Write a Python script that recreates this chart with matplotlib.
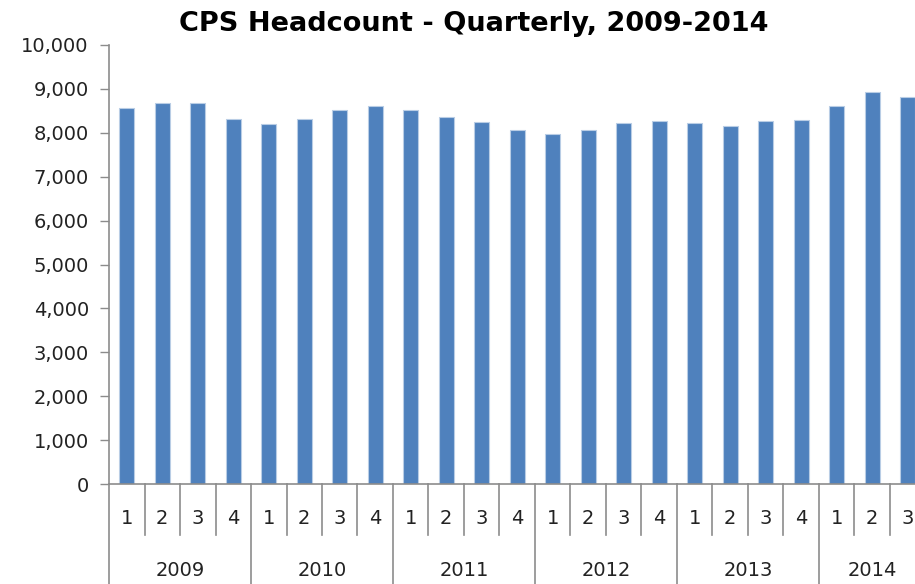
import matplotlib
matplotlib.use("Agg")
import matplotlib.pyplot as plt
from matplotlib.ticker import FuncFormatter

years = ["2009", "2010", "2011", "2012", "2013", "2014"]
quarters_per_year = [4, 4, 4, 4, 4, 3]
quarter_labels = ["1", "2", "3", "4"] * 5 + ["1", "2", "3"]
headcount = [8560, 8670, 8670, 8310, 8200, 8310, 8520, 8610, 8520, 8350,
             8240, 8060, 7970, 8060, 8230, 8260, 8230, 8150, 8260, 8290,
             8610, 8930, 8810]

W, H = 915, 584
fig = plt.figure(figsize=(W / 100, H / 100), dpi=100)
ax_left, ax_bottom, ax_top = 109, 484, 45
cat_w = 35.5
n = len(headcount)
ax = fig.add_axes([ax_left / W, (H - ax_bottom) / H, n * cat_w / W, (ax_bottom - ax_top) / H])

font = "DejaVu Sans"
gray = "#8C8C8C"
txt = "#222222"
fs = 14
x = list(range(n))
ax.bar(x, headcount, width=0.41, color="#4F81BD", edgecolor="#B9CDE5", linewidth=0.8)
ax.set_xlim(-0.5, n - 0.5)
ax.set_ylim(0, 10000)
ax.set_yticks(range(0, 10001, 1000))
ax.yaxis.set_major_formatter(FuncFormatter(lambda v, p: f"{int(v):,}"))
ax.tick_params(axis="y", length=6.5, width=1, color=gray, labelsize=fs, pad=8)
for lab in ax.get_yticklabels():
    lab.set_fontfamily(font)
    lab.set_color(txt)
ax.set_xticks([])
for s in ["top", "right"]:
    ax.spines[s].set_visible(False)
for s in ["left", "bottom"]:
    ax.spines[s].set_color(gray)
    ax.spines[s].set_linewidth(1.2)

px = 1.0 / (ax_bottom - ax_top)  # one pixel in axes units
tr = ax.get_xaxis_transform()
# quarter labels
for i, q in enumerate(quarter_labels):
    ax.text(i, -35 * px, q, transform=tr, ha="center", va="center",
            fontsize=fs, family=font, color=txt, clip_on=False)
# separators
boundaries_year = []
pos = -0.5
for k in quarters_per_year:
    boundaries_year.append(pos)
    pos += k
boundaries_year.append(pos)
for b in [i - 0.5 for i in range(n + 1)]:
    if b in boundaries_year:
        ax.plot([b, b], [0, -130 * px], transform=tr, color=gray, lw=1.2, clip_on=False)
    else:
        ax.plot([b, b], [0, -51 * px], transform=tr, color=gray, lw=1.2, clip_on=False)
# year labels
start = 0
for yname, k in zip(years, quarters_per_year):
    c = start + (k - 1) / 2
    ax.text(c, -86 * px, yname, transform=tr, ha="center", va="center",
            fontsize=fs, family=font, color=txt, clip_on=False)
    start += k

fig.text(474 / W, 1 - 24 / H, "CPS Headcount - Quarterly, 2009-2014", ha="center", va="center",
         fontsize=19.5, fontweight="bold", family=font, color="#000000")

fig.savefig("out.png", dpi=100)
